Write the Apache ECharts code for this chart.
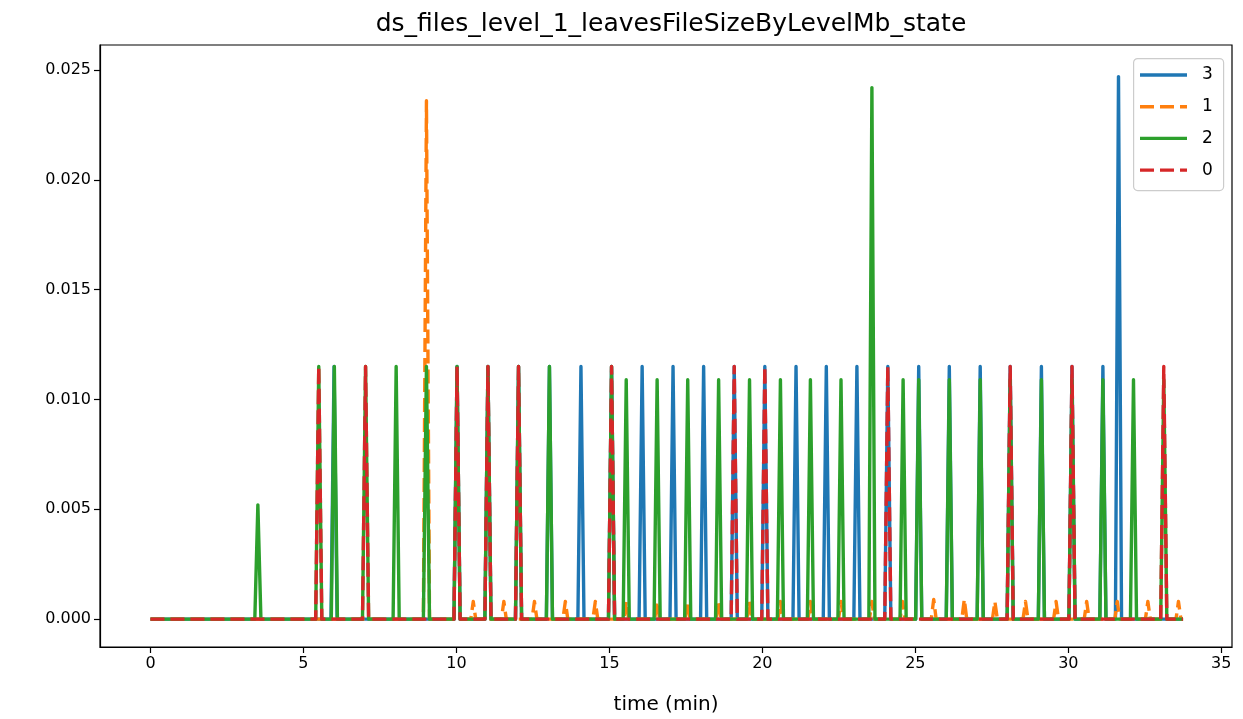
<!DOCTYPE html>
<html>
<head>
<meta charset="utf-8">
<script src="https://cdn.jsdelivr.net/npm/echarts@6/dist/echarts.min.js"></script>
<style>
html,body{margin:0;padding:0;background:#fff;}
#chart{width:1243px;height:719px;}
</style>
</head>
<body>
<div id="chart"></div>
<script>
// ---- data (time in minutes, value in Mb) ----
const titleText = "ds_files_level_1_leavesFileSizeByLevelMb_state";
const xAxisName = "time (min)";
const seriesNames = ["3", "1", "2", "0"];
const xTicks = [0, 5, 10, 15, 20, 25, 30, 35];
const yTicks = [0, 0.005, 0.010, 0.015, 0.020, 0.025];

// series "3"
const s3 = [
  [0,0],[5.9,0],[6.0,0.0115],[6.1,0],[9.92,0],[10.02,0.0115],[10.12,0],
  [10.93,0],[11.03,0.0115],[11.13,0],[11.93,0],[12.03,0.0115],[12.13,0],
  [12.94,0],[13.04,0.0115],[13.14,0],[13.97,0],[14.07,0.0115],[14.17,0],
  [14.97,0],[15.07,0.0115],[15.17,0],[15.97,0],[16.07,0.0115],[16.17,0],
  [16.98,0],[17.08,0.0115],[17.18,0],[17.98,0],[18.08,0.0115],[18.18,0],
  [18.98,0],[19.08,0.0115],[19.18,0],[19.98,0],[20.08,0.0115],[20.18,0],
  [21.0,0],[21.1,0.0115],[21.2,0],[21.99,0],[22.09,0.0115],[22.19,0],
  [22.99,0],[23.09,0.0115],[23.19,0],[24.0,0],[24.1,0.0115],[24.2,0],
  [25.01,0],[25.11,0.0115],[25.21,0],[26.01,0],[26.11,0.0115],[26.21,0],
  [27.02,0],[27.12,0.0115],[27.22,0],[28.0,0],[28.1,0.0115],[28.2,0],
  [29.02,0],[29.12,0.0115],[29.22,0],[30.02,0],[30.12,0.0115],[30.22,0],
  [31.03,0],[31.13,0.0115],[31.23,0],[31.54,0],[31.64,0.0247],[31.74,0],
  [33.75,0]
];
// series "1"
const s1 = [
  [0,0],[8.92,0],[9.02,0.0236],[9.12,0],
  [10.47,0],[10.55,0.0008],[10.63,0],[11.47,0],[11.55,0.0008],[11.63,0],
  [12.47,0],[12.55,0.0008],[12.63,0],[13.48,0],[13.56,0.0008],[13.64,0],
  [14.46,0],[14.54,0.0008],[14.62,0],[15.47,0],[15.55,0.0008],[15.63,0],
  [16.48,0],[16.56,0.0008],[16.64,0],[17.47,0],[17.55,0.0008],[17.63,0],
  [18.48,0],[18.56,0.0008],[18.64,0],[19.49,0],[19.57,0.0008],[19.65,0],
  [20.51,0],[20.59,0.0008],[20.67,0],[21.49,0],[21.57,0.0008],[21.65,0],
  [22.49,0],[22.57,0.0008],[22.65,0],[23.5,0],[23.58,0.0008],[23.66,0],
  [24.5,0],[24.58,0.0008],[24.66,0],[25.52,0],[25.6,0.0009],[25.68,0],
  [26.52,0],[26.6,0.0009],[26.68,0],[27.52,0],[27.6,0.0008],[27.68,0],
  [28.52,0],[28.6,0.0008],[28.68,0],[29.52,0],[29.6,0.0008],[29.68,0],
  [30.52,0],[30.6,0.0008],[30.68,0],[31.52,0],[31.6,0.0008],[31.68,0],
  [32.52,0],[32.6,0.0008],[32.68,0],[33.52,0],[33.6,0.0008],[33.68,0],
  [33.75,0]
];
// series "2"
const s2 = [
  [0,0],[3.41,0],[3.51,0.0052],[3.61,0],
  [5.4,0],[5.5,0.0115],[5.6,0],[5.91,0],[6.01,0.0115],[6.11,0],
  [6.93,0],[7.03,0.0115],[7.13,0],[7.93,0],[8.03,0.0115],[8.13,0],
  [8.92,0],[9.02,0.0115],[9.12,0],[9.92,0],[10.02,0.0115],[10.12,0],
  [10.93,0],[11.03,0.0115],[11.13,0],[11.93,0],[12.03,0.0115],[12.13,0],
  [12.94,0],[13.04,0.0115],[13.14,0],[14.97,0],[15.07,0.0115],[15.17,0],
  [15.45,0],[15.55,0.0109],[15.65,0],[16.46,0],[16.56,0.0109],[16.66,0],
  [17.46,0],[17.56,0.0109],[17.66,0],[18.47,0],[18.57,0.0109],[18.67,0],
  [19.48,0],[19.58,0.0109],[19.68,0],[20.49,0],[20.59,0.0109],[20.69,0],
  [21.47,0],[21.57,0.0109],[21.67,0],[22.47,0],[22.57,0.0109],[22.67,0],
  [23.48,0],[23.58,0.0242],[23.68,0],[24.5,0],[24.6,0.0109],[24.7,0],
  [25.01,0],[25.11,0.0109],[25.21,0],[26.01,0],[26.11,0.0109],[26.21,0],
  [27.02,0],[27.12,0.0109],[27.22,0],[28.0,0],[28.1,0.0109],[28.2,0],
  [29.02,0],[29.12,0.0109],[29.22,0],[30.02,0],[30.12,0.0109],[30.22,0],
  [31.03,0],[31.13,0.0109],[31.23,0],[32.03,0],[32.13,0.0109],[32.23,0],
  [33.02,0],[33.12,0.0109],[33.22,0],[33.75,0]
];
// series "0"
const s0 = [
  [0,0],[5.4,0],[5.5,0.0115],[5.6,0],[6.93,0],[7.03,0.0115],[7.13,0],
  [9.92,0],[10.02,0.0115],[10.12,0],[10.93,0],[11.03,0.0115],[11.13,0],
  [11.93,0],[12.03,0.0115],[12.13,0],[14.97,0],[15.07,0.0115],[15.17,0],
  [18.98,0],[19.08,0.0115],[19.18,0],[19.98,0],[20.08,0.0115],[20.18,0],
  [24.0,0],[24.1,0.0115],[24.2,0],[28.0,0],[28.1,0.0115],[28.2,0],
  [30.02,0],[30.12,0.0115],[30.22,0],[33.02,0],[33.12,0.0115],[33.22,0],
  [33.75,0]
];

const colors = ["#1f77b4", "#ff7f0e", "#2ca02c", "#d62728"];
const DASH = [14, 6];
const dashes = ["solid", DASH, "solid", DASH];
const seriesData = [s3, s1, s2, s0];
const FONT = "DejaVu Sans";
const LW = 3.4;

// legend drawn as graphic elements (line samples + labels inside a rounded box)
const legendGraphics = [{
  type: "rect", left: 1133, top: 58, z: 100,
  shape: {width: 90, height: 132, r: 4},
  style: {fill: "rgba(255,255,255,0.85)", stroke: "#cccccc", lineWidth: 1.2}
}];
seriesNames.forEach((n, i) => {
  const y = 75 + 31.7 * i;
  legendGraphics.push({
    type: "line", z: 101,
    shape: {x1: 1140, y1: y, x2: 1187, y2: y},
    style: {stroke: colors[i], lineWidth: LW, lineDash: dashes[i] === "solid" ? null : DASH, lineCap: "butt"}
  });
  legendGraphics.push({
    type: "text", z: 101, x: 1202, y: y,
    style: {text: n, font: "17px " + FONT, fill: "#000", textVerticalAlign: "middle", textAlign: "left"}
  });
});

const chart = echarts.init(document.getElementById("chart"), null, {renderer: "canvas"});
chart.setOption({
  animation: false,
  backgroundColor: "#fff",
  title: {
    text: titleText,
    left: 666, textAlign: "center",
    top: 7,
    textStyle: {fontFamily: FONT, fontSize: 25, fontWeight: "normal", color: "#000"}
  },
  grid: {
    left: 100, right: 11, top: 45, bottom: 72,
    containLabel: false, outerBoundsMode: "none",
    show: true, borderColor: "#000", borderWidth: 1.2, backgroundColor: "transparent"
  },
  graphic: legendGraphics,
  xAxis: {
    type: "value", min: -1.65, max: 35.35,
    name: xAxisName, nameLocation: "middle", nameGap: 48,
    nameTextStyle: {fontFamily: FONT, fontSize: 20, color: "#000"},
    axisLine: {show: true, onZero: false, lineStyle: {color: "#000", width: 1.2}},
    axisTick: {show: true, inside: false, length: 6, customValues: xTicks, lineStyle: {color: "#000", width: 1.2}},
    axisLabel: {customValues: xTicks, fontFamily: FONT, fontSize: 16, color: "#000", margin: 9,
      formatter: v => String(v)},
    splitLine: {show: false}
  },
  yAxis: {
    type: "value", min: -0.00127, max: 0.02614,
    axisLine: {show: true, onZero: false, lineStyle: {color: "#000", width: 1.2}},
    axisTick: {show: true, inside: false, length: 6, customValues: yTicks, lineStyle: {color: "#000", width: 1.2}},
    axisLabel: {customValues: yTicks, fontFamily: FONT, fontSize: 16, color: "#000", margin: 9,
      formatter: v => v.toFixed(3)},
    splitLine: {show: false}
  },
  series: seriesNames.map((n, i) => ({
    name: n,
    type: "line",
    data: seriesData[i],
    showSymbol: false,
    symbol: "none",
    color: colors[i],
    lineStyle: {color: colors[i], width: LW, type: dashes[i], cap: "butt", join: "round"},
    z: 2 + i
  }))
});
</script>
</body>
</html>
